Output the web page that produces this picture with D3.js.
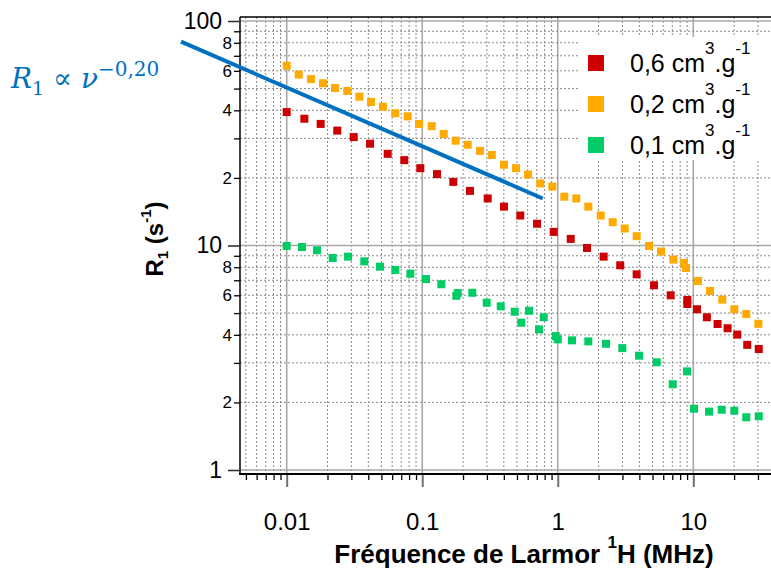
<!DOCTYPE html>
<html><head><meta charset="utf-8">
<script src="https://cdn.jsdelivr.net/npm/d3@7"></script>
<style>body{margin:0;background:#fff}svg{display:block}</style>
</head><body>
<svg id="c" width="771" height="576"></svg>
<script>
// ---- data ----
const xMajorValues = [0.01, 0.1, 1, 10];
const xTickLabels = ["0.01", "0.1", "1", "10"];
const yMajorValues = [1, 10, 100];
const yMajorLabels = ["1", "10", "100"];
const yMinorLabelled = [2, 4, 6, 8, 20, 40, 60, 80];

const seriesNames = ["0,6", "0,2", "0,1"];
const seriesColors = ["#cc0000", "#ffaa00", "#00cc66"];

const freq06 = [0.01,0.0135,0.0178,0.0236,0.0312,0.0412,0.0556,0.0737,0.0968,0.1285,
  0.1695,0.225,0.304,0.401,0.529,0.703,0.933,1.246,1.644,2.18,
  2.89,3.82,5.13,6.81,9.03,9.03,10.65,12.6,15.1,17.9,21.1,25.0,30.4];
const r1_06 = [39.3,36.7,34.8,32.5,30.4,28.4,25.6,24.0,22.1,20.8,
  19.2,17.5,16.2,14.9,13.6,12.5,11.5,10.7,9.75,8.92,
  8.16,7.44,6.65,6.00,5.72,5.49,5.20,4.79,4.47,4.28,4.01,3.61,3.46];

const freq02 = [0.01,0.01226,0.0151,0.01853,0.02272,0.028,0.03434,0.04188,0.05134,0.0633,
  0.0781,0.0947,0.1175,0.144,0.1766,0.2166,0.2669,0.3255,0.4012,0.4921,
  0.6032,0.743,0.9113,1.118,1.370,1.680,2.074,2.543,3.118,3.823,
  4.712,5.779,7.12,8.54,8.84,10.83,13.29,16.37,20.07,24.6,30.2];
const r1_02 = [63.2,57.7,55.1,52.8,50.3,48.8,46.0,43.6,41.5,38.8,
  37.6,34.8,34.0,31.4,29.3,28.1,26.4,25.3,22.9,22.1,
  20.7,18.9,18.3,16.5,16.2,14.9,13.6,12.7,11.9,11.0,
  9.95,9.40,8.66,8.36,7.94,6.95,6.27,5.74,5.20,4.95,4.48];

const freq01 = [0.01,0.01297,0.01673,0.02185,0.02834,0.03737,0.0488,0.0633,0.0817,0.1066,
  0.1383,0.1784,0.1827,0.2342,0.2991,0.3793,0.4812,0.5383,0.6135,0.7271,
  0.7875,0.9656,0.999,1.274,1.680,2.270,2.994,3.977,5.37,7.05,
  8.99,10.12,13.06,16.2,20.07,24.6,30.4];
const r1_01 = [9.95,9.85,9.52,8.80,8.92,8.50,8.05,7.78,7.49,7.09,
  6.72,5.97,6.14,6.16,5.56,5.36,5.07,4.53,5.12,4.23,
  4.79,3.95,3.82,3.78,3.74,3.65,3.49,3.23,3.02,2.41,
  2.75,1.875,1.82,1.856,1.837,1.717,1.735];

const fitFreq = [0.00166, 0.774];
const fitR1 = [80.9, 16.2];

// ---- chart ----
const svg = d3.select("#c");
const W = 771;
const plotLeft = 240, plotTop = 17, axisY = 474;
const x = d3.scaleLog().domain([0.01, 10]).range([286.7, 693.3]);
const y = d3.scaleLog().domain([1, 100]).range([470, 21]);

const isMajorX = v => xMajorValues.some(m => Math.abs(m - v) / v < 1e-6);
const isMajorY = v => yMajorValues.some(m => Math.abs(m - v) / v < 1e-6);

const xGridVals = [0.001, 0.01, 0.1, 1, 10, 100]
  .flatMap(d => d3.range(1, 10).map(k => +(k * d).toPrecision(3)))
  .filter(v => x(v) > plotLeft + 1 && x(v) < W + 5);
const yGridVals = [1, 10]
  .flatMap(d => d3.range(1, 10).map(k => +(k * d).toPrecision(3)))
  .concat([100]);

// grid
const grid = svg.append("g");
grid.selectAll("line.gx").data(xGridVals).join("line")
  .attr("x1", d => x(d)).attr("x2", d => x(d))
  .attr("y1", plotTop).attr("y2", axisY)
  .attr("stroke", d => isMajorX(d) ? "#a8a8a8" : "#8a8a8a")
  .attr("stroke-width", d => isMajorX(d) ? 1.6 : 1)
  .attr("stroke-dasharray", d => isMajorX(d) ? null : "2,2");
grid.selectAll("line.gy").data(yGridVals).join("line")
  .attr("x1", plotLeft).attr("x2", W)
  .attr("y1", d => y(d)).attr("y2", d => y(d))
  .attr("stroke", d => isMajorY(d) ? "#a8a8a8" : "#8a8a8a")
  .attr("stroke-width", d => isMajorY(d) ? 1.6 : 1)
  .attr("stroke-dasharray", d => isMajorY(d) ? null : "2,2");

// legend background
svg.append("rect").attr("x", 578).attr("y", 37).attr("width", 200).attr("height", 123)
  .attr("fill", "#fff");

// data
const series = [
  {f: freq06, r: r1_06},
  {f: freq02, r: r1_02},
  {f: freq01, r: r1_01}
];
const ms = 8;
series.forEach((s, i) => {
  svg.append("g").selectAll("rect").data(s.f.map((f, j) => [f, s.r[j]])).join("rect")
    .attr("x", d => x(d[0]) - ms / 2).attr("y", d => y(d[1]) - ms / 2)
    .attr("width", ms).attr("height", ms)
    .attr("fill", seriesColors[i]);
});

// frame
svg.append("line").attr("x1", plotLeft).attr("x2", W).attr("y1", plotTop).attr("y2", plotTop)
  .attr("stroke", "#000").attr("stroke-width", 1.5);
svg.append("line").attr("x1", plotLeft).attr("x2", plotLeft).attr("y1", plotTop).attr("y2", axisY)
  .attr("stroke", "#000").attr("stroke-width", 1.5);

// x axis
const xAxis = d3.axisBottom(x).tickValues(xGridVals).tickSize(6).tickPadding(4)
  .tickFormat(v => { const i = xMajorValues.findIndex(m => Math.abs(m - v) / v < 1e-6); return i >= 0 ? xTickLabels[i] : ""; });
const gx = svg.append("g").attr("transform", `translate(0,${axisY})`).call(xAxis);
gx.select(".domain").remove();
gx.append("line").attr("x1", plotLeft - 1).attr("x2", W).attr("y1", 0).attr("y2", 0)
  .attr("stroke", "#000").attr("stroke-width", 2);
gx.selectAll(".tick line").attr("stroke", "#000").attr("stroke-width", 1.3);
gx.selectAll(".tick").filter(d => isMajorX(d)).select("line")
  .attr("y2", 13).attr("stroke", "#707070").attr("stroke-width", 2);
gx.selectAll(".tick text").attr("y", 39).attr("font-family", "Liberation Sans, Arial, sans-serif")
  .attr("font-size", 24).attr("fill", "#000");

// y axis
const yAxis = d3.axisLeft(y).tickValues(yGridVals).tickSize(6).tickPadding(2)
  .tickFormat(v => {
    const i = yMajorValues.findIndex(m => Math.abs(m - v) / v < 1e-6);
    if (i >= 0) return yMajorLabels[i];
    if (yMinorLabelled.some(m => Math.abs(m - v) / v < 1e-6)) return String(v >= 10 ? v / 10 : v);
    return "";
  });
const gy = svg.append("g").attr("transform", `translate(${plotLeft},0)`).call(yAxis);
gy.select(".domain").remove();
gy.selectAll(".tick line").attr("stroke", "#000").attr("stroke-width", 1.3);
gy.selectAll(".tick text").attr("font-family", "Liberation Sans, Arial, sans-serif")
  .attr("font-size", 17).attr("fill", "#000");
const majT = gy.selectAll(".tick").filter(d => isMajorY(d));
majT.select("line").attr("x2", -12).attr("stroke", "#333").attr("stroke-width", 1.6);
majT.select("text").attr("x", -18).attr("font-size", 23);

// axis titles
const xt = svg.append("text").attr("x", 524).attr("y", 563).attr("text-anchor", "middle")
  .attr("font-family", "Liberation Sans, Arial, sans-serif").attr("font-weight", "bold")
  .attr("font-size", 26).attr("fill", "#000");
xt.append("tspan").text("Fréquence de Larmor ");
xt.append("tspan").attr("font-size", 17).attr("dy", -15).text("1");
xt.append("tspan").attr("dy", 15).text("H (MHz)");

const yt = svg.append("text").attr("transform", "translate(163,239) rotate(-90)")
  .attr("text-anchor", "middle")
  .attr("font-family", "Liberation Sans, Arial, sans-serif").attr("font-weight", "bold")
  .attr("font-size", 24).attr("fill", "#000");
yt.append("tspan").text("R");
yt.append("tspan").attr("font-size", 15).attr("dy", 5).text("1");
yt.append("tspan").attr("dy", -5).text(" (s");
yt.append("tspan").attr("font-size", 15).attr("dy", -12).text("-1");
yt.append("tspan").attr("dy", 12).text(")");

// legend
seriesNames.forEach((name, i) => {
  const cy = 63 + i * 41;
  svg.append("rect").attr("x", 588).attr("y", cy - 8).attr("width", 16).attr("height", 16)
    .attr("fill", seriesColors[i]);
  const t = svg.append("text").attr("x", 630).attr("y", cy + 9)
    .attr("font-family", "Liberation Sans, Arial, sans-serif").attr("font-size", 25).attr("fill", "#000");
  t.append("tspan").text(name + " cm");
  t.append("tspan").attr("font-size", 17).attr("dy", -18).text("3");
  t.append("tspan").attr("dy", 18).text(".g");
  t.append("tspan").attr("font-size", 17).attr("dy", -18).text("-1");
});

// fit line & annotation
const blue = "#0070c0";
svg.append("path")
  .attr("d", d3.line().x(d => x(d[0])).y(d => y(d[1]))(fitFreq.map((f, i) => [f, fitR1[i]])))
  .attr("stroke", blue).attr("stroke-width", 4).attr("fill", "none");

const ann = svg.append("text").attr("x", 11).attr("y", 88)
  .attr("font-family", "DejaVu Serif, Liberation Serif, serif").attr("font-size", 28).attr("fill", blue);
ann.append("tspan").attr("font-style", "italic").text("R");
ann.append("tspan").attr("font-size", 19).attr("dy", 7).text("1");
ann.append("tspan").attr("dy", -7).text(" \u221D ");
ann.append("tspan").attr("font-style", "italic").text("\u03BD");
ann.append("tspan").attr("font-size", 20).attr("dy", -12).text("\u22120,20");
</script>
</body></html>
